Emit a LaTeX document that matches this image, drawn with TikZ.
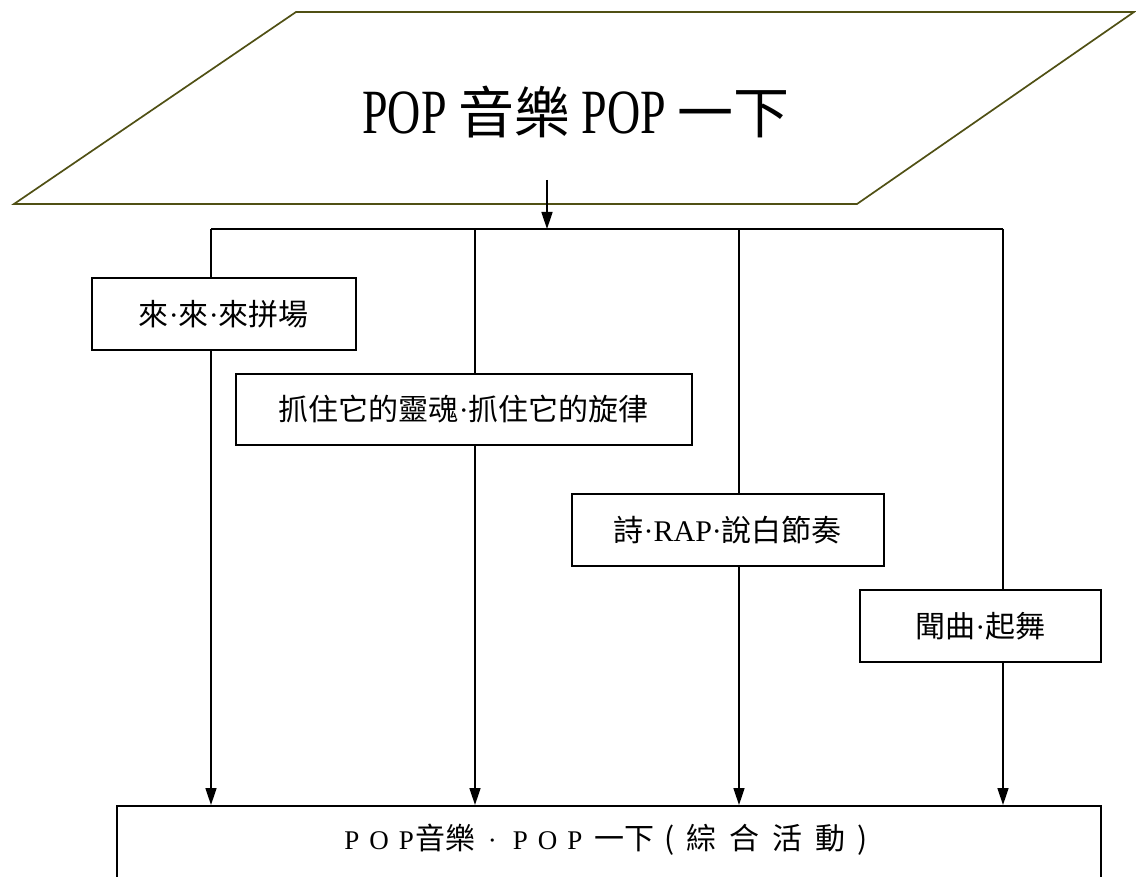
\documentclass[tikz,border=0pt]{standalone}
\usepackage{fontspec}
\setmainfont{Liberation Serif}
\newfontfamily\cjk{Noto Sans CJK TC}
\newfontfamily\narrowserif[FakeStretch=0.73]{Liberation Serif}
\usetikzlibrary{arrows.meta}
\definecolor{olivepar}{RGB}{80,80,20}
\tikzset{
  box/.style={draw=black, line width=1.6pt, fill=white, inner sep=0pt, anchor=north west},
  bus/.style={draw=black, line width=1.6pt},
  arr/.style={bus, -{Triangle[length=17pt,width=11pt]}},
  lbl/.style={font=\fontsize{30}{32}\selectfont},
}
\newcommand{\lsp}{\hspace{10pt}}
\begin{document}
\begin{tikzpicture}[x=1pt,y=-1pt]
\useasboundingbox (0,0) rectangle (1136,877);
% parallelogram
\draw[olivepar, line width=1.7pt] (296,12) -- (1134,12) -- (857,204) -- (14,204) -- cycle;
\node (title) at (576,112) {\fontsize{63}{65}\selectfont\narrowserif POP {\fontsize{56}{60}\selectfont\cjk 音樂} POP {\fontsize{56}{60}\selectfont\cjk 一下}};
\coordinate (tin) at (547,180);
% bus
\coordinate (b1) at (211,229);
\coordinate (b2) at (475,229);
\coordinate (b3) at (739,229);
\coordinate (b4) at (1003,229);
\coordinate (bc) at (547,229);
\draw[arr] (tin) -- (bc);
\draw[bus] (b1) -- (b4);
% bottom box
\node[box, minimum width=984pt, minimum height=74pt] (bot) at (116,805) {};
\node at (606,840) {\fontsize{27}{29}\selectfont P\lsp O\lsp P\hspace{2pt}{\cjk\fontsize{30}{32}\selectfont 音樂}\hspace{12pt}·\hspace{16pt}P\lsp O\lsp P\hspace{12pt}{\cjk\fontsize{30}{32}\selectfont 一下\hspace{10pt}(\hspace{12pt}綜\hspace{13pt}合\hspace{13pt}活\hspace{13pt}動\hspace{12pt})}};
\draw[arr] (b1) -- (b1 |- bot.north);
\draw[arr] (b2) -- (b2 |- bot.north);
\draw[arr] (b3) -- (b3 |- bot.north);
\draw[arr] (b4) -- (b4 |- bot.north);
% boxes
\node[box, minimum width=264pt, minimum height=72pt] (n1) at (91,277) {};
\node[lbl] at (n1.center) {{\cjk 來}·{\cjk 來}·{\cjk 來拼場}};
\node[box, minimum width=456pt, minimum height=71pt] (n2) at (235,373) {};
\node[lbl] at (n2.center) {{\cjk 抓住它的靈魂}·{\cjk 抓住它的旋律}};
\node[box, minimum width=312pt, minimum height=72pt] (n3) at (571,493) {};
\node[lbl] at (n3.center) {{\cjk 詩}·RAP·{\cjk 說白節奏}};
\node[box, minimum width=241pt, minimum height=72pt] (n4) at (859,589) {};
\node[lbl] at (n4.center) {{\cjk 聞曲}·{\cjk 起舞}};
\end{tikzpicture}
\end{document}
